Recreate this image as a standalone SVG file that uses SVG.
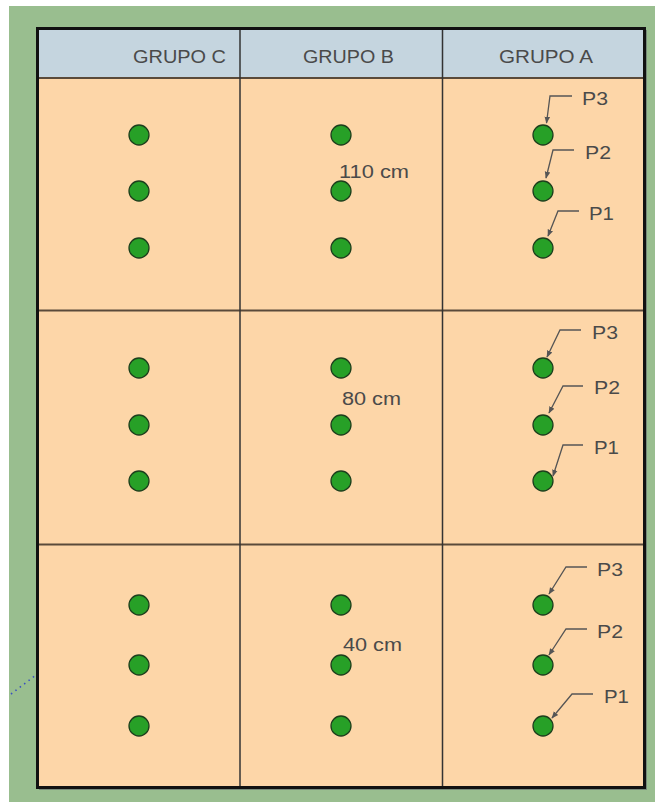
<svg xmlns="http://www.w3.org/2000/svg" width="655" height="802" viewBox="0 0 655 802">
<style>
.hdr{font-family:"Liberation Sans","DejaVu Sans",sans-serif;font-size:19px;fill:#4a4a4a}
.lbl{font-family:"Liberation Sans","DejaVu Sans",sans-serif;font-size:18px;fill:#4a4a4a}
.dot{fill:#27a027;stroke:#1c3f1c;stroke-width:1.3}
.cell{fill:#fdd6a8}
.grid{stroke:#333;stroke-width:1.5;fill:none}
.hline{stroke:#5a4a3a;stroke-width:2;fill:none}
.lead{stroke:#555;stroke-width:1.3;fill:none;marker-end:url(#arr)}
</style>
<defs>
<marker id="arr" viewBox="0 0 10 10" refX="9" refY="5" markerWidth="7" markerHeight="7" markerUnits="userSpaceOnUse" orient="auto">
<path d="M0,1 L10,5 L0,9 Z" fill="#555"/>
</marker>
</defs>
<rect x="0" y="0" width="655" height="802" fill="#ffffff"/>
<rect x="9" y="6" width="646" height="796" fill="#99be8f"/>
<g id="table">
<rect x="39" y="30" width="608" height="760" fill="#556" opacity="0.5"/>
<rect x="37.5" y="28.5" width="607" height="759" class="cell"/>
<rect x="37.5" y="28.5" width="607" height="49.5" fill="#c5d5df"/>
<line x1="37.5" y1="78" x2="644.5" y2="78" class="hline"/>
<line x1="37.5" y1="310.5" x2="644.5" y2="310.5" class="hline"/>
<line x1="37.5" y1="544.5" x2="644.5" y2="544.5" class="hline"/>
<line x1="240" y1="28.5" x2="240" y2="787.5" class="grid"/>
<line x1="442.5" y1="28.5" x2="442.5" y2="787.5" class="grid"/>
<rect x="37.5" y="28.5" width="607" height="759" fill="none" stroke="#111" stroke-width="3"/>
</g>
<g id="headers">
<text class="hdr" x="133" y="63" textLength="93" lengthAdjust="spacingAndGlyphs">GRUPO C</text>
<text class="hdr" x="303" y="63" textLength="91" lengthAdjust="spacingAndGlyphs">GRUPO B</text>
<text class="hdr" x="499" y="63" textLength="94" lengthAdjust="spacingAndGlyphs">GRUPO A</text>
</g>
<g id="nodes">
<g id="c-110"><circle class="dot" cx="139" cy="135" r="10"/><circle class="dot" cx="139" cy="191" r="10"/><circle class="dot" cx="139" cy="248" r="10"/></g>
<g id="b-110"><circle class="dot" cx="341" cy="135" r="10"/><circle class="dot" cx="341" cy="191" r="10"/><circle class="dot" cx="341" cy="248" r="10"/></g>
<g id="a-110"><circle class="dot" cx="543" cy="135" r="10"/><circle class="dot" cx="543" cy="191" r="10"/><circle class="dot" cx="543" cy="248" r="10"/></g>
<g id="c-80"><circle class="dot" cx="139" cy="368" r="10"/><circle class="dot" cx="139" cy="425" r="10"/><circle class="dot" cx="139" cy="481" r="10"/></g>
<g id="b-80"><circle class="dot" cx="341" cy="368" r="10"/><circle class="dot" cx="341" cy="425" r="10"/><circle class="dot" cx="341" cy="481" r="10"/></g>
<g id="a-80"><circle class="dot" cx="543" cy="368" r="10"/><circle class="dot" cx="543" cy="425" r="10"/><circle class="dot" cx="543" cy="481" r="10"/></g>
<g id="c-40"><circle class="dot" cx="139" cy="605" r="10"/><circle class="dot" cx="139" cy="665" r="10"/><circle class="dot" cx="139" cy="726" r="10"/></g>
<g id="b-40"><circle class="dot" cx="341" cy="605" r="10"/><circle class="dot" cx="341" cy="665" r="10"/><circle class="dot" cx="341" cy="726" r="10"/></g>
<g id="a-40"><circle class="dot" cx="543" cy="605" r="10"/><circle class="dot" cx="543" cy="665" r="10"/><circle class="dot" cx="543" cy="726" r="10"/></g>
</g>
<g id="distances">
<text class="lbl" x="339" y="178" textLength="70" lengthAdjust="spacingAndGlyphs">110 cm</text>
<text class="lbl" x="342" y="405" textLength="59" lengthAdjust="spacingAndGlyphs">80 cm</text>
<text class="lbl" x="343" y="651" textLength="59" lengthAdjust="spacingAndGlyphs">40 cm</text>
</g>
<g id="connectors">
<path class="lead" d="M572,96 L550,96 L546.5,123"/>
<path class="lead" d="M574,150 L553,150 L546,178"/>
<path class="lead" d="M579,211 L558,211 L548,236"/>
<path class="lead" d="M581,330 L560,330 L547,357"/>
<path class="lead" d="M583,386 L563,386 L549,413"/>
<path class="lead" d="M583,445 L563,445 L553,476"/>
<path class="lead" d="M587,567 L566,567 L549,594"/>
<path class="lead" d="M587,629 L566,629 L549,655"/>
<path class="lead" d="M593,694 L572,694 L552,718"/>
<line x1="11" y1="694" x2="36" y2="675" stroke="#3a4fc0" stroke-width="1.6" stroke-dasharray="1.5,4"/>
</g>
<g id="labels">
<text class="lbl" x="582" y="105" textLength="26" lengthAdjust="spacingAndGlyphs">P3</text>
<text class="lbl" x="585" y="159" textLength="26" lengthAdjust="spacingAndGlyphs">P2</text>
<text class="lbl" x="589" y="220" textLength="25" lengthAdjust="spacingAndGlyphs">P1</text>
<text class="lbl" x="592" y="339" textLength="26" lengthAdjust="spacingAndGlyphs">P3</text>
<text class="lbl" x="594" y="394" textLength="26" lengthAdjust="spacingAndGlyphs">P2</text>
<text class="lbl" x="594" y="454" textLength="25" lengthAdjust="spacingAndGlyphs">P1</text>
<text class="lbl" x="597" y="576" textLength="26" lengthAdjust="spacingAndGlyphs">P3</text>
<text class="lbl" x="597" y="638" textLength="26" lengthAdjust="spacingAndGlyphs">P2</text>
<text class="lbl" x="604" y="703" textLength="25" lengthAdjust="spacingAndGlyphs">P1</text>
</g>
</svg>
